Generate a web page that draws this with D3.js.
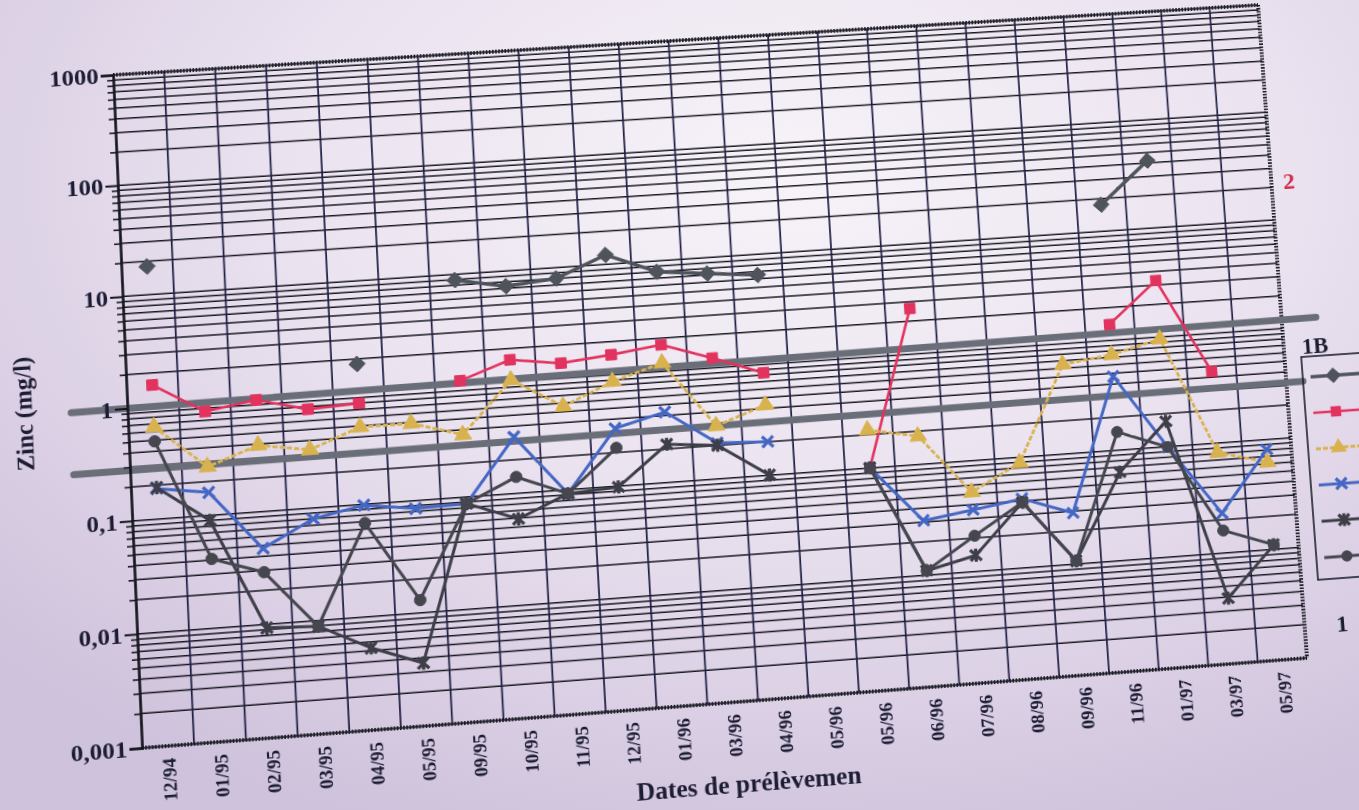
<!DOCTYPE html>
<html><head><meta charset="utf-8">
<script src="https://cdn.jsdelivr.net/npm/d3@7"></script>
<style>
html,body{margin:0;padding:0;width:1359px;height:810px;overflow:hidden;}
body{background: radial-gradient(ellipse 80% 85% at 58% 22%, #f7f3f8 0%, #ebe3f0 45%, #cfc2dc 100%);}
#chart{position:absolute;left:0;top:0;transform-origin:0 0;overflow:visible;}
text{font-family:"Liberation Serif","Times New Roman",serif;font-weight:bold;fill:#1c1c34;}
</style></head><body>
<svg id="chart" width="1500" height="900"></svg>
<script>
// ---------------- data ----------------
const categories = ["12/94","01/95","02/95","03/95","04/95","05/95","09/95","10/95","11/95","12/95","01/96","03/96","04/96","05/96","05/96","06/96","07/96","08/96","09/96","11/96","01/97","03/97","05/97"];
const zincDiamond = [18, null, null, null, 1.8, null, 8.9, 7.3, 8.0, 12.2, 8.0, 7.2, 6.5, null, null, null, null, null, null, 17.6, 42, null, null];
const zincSquare  = [1.56, 0.84, 0.99, 0.76, 0.80, null, 1.1, 1.58, 1.37, 1.52, 1.74, 1.23, 0.84, null, 0.10, 2.6, null, null, null, 1.4, 3.3, 0.45, null];
const zincTriangle= [0.66, 0.27, 0.39, 0.33, 0.49, 0.49, 0.36, 1.04, 0.56, 0.87, 1.19, 0.30, 0.43, null, 0.22, 0.18, 0.052, 0.089, 0.65, 0.74, 0.96, 0.082, 0.062];
const zincCross   = [0.186, 0.16, 0.047, 0.080, 0.098, 0.085, 0.087, 0.32, 0.092, 0.33, 0.43, 0.21, 0.20, null, 0.10, 0.031, 0.036, 0.042, 0.029, 0.47, 0.099, 0.023, 0.081];
const zincStar    = [0.19, 0.090, 0.0093, 0.0089, 0.0053, 0.0036, 0.087, 0.059, 0.092, 0.098, 0.22, 0.20, 0.10, null, 0.10, 0.011, 0.014, 0.039, 0.0107, 0.063, 0.17, 0.0039, 0.011];
const zincCircle  = [0.49, 0.041, 0.029, 0.0089, 0.068, 0.013, 0.087, 0.14, 0.092, 0.22, null, null, null, null, 0.10, 0.011, 0.021, 0.039, 0.0107, 0.146, 0.099, 0.016, 0.011];
const yTickValues = [1000, 100, 10, 1, 0.1, 0.01, 0.001];
const yTickLabels = ["1000", "100", "10", "1", "0,1", "0,01", "0,001"];
const thresholdStart = [1.0, 0.28];
const thresholdEnd   = [1.2, 0.32];
const classLabels = ["2", "1B", "1"];
const yTitle = "Zinc (mg/l)";
const xTitle = "Dates de prélèvemen";

// ---------------- layout ----------------
const ML = 113, MT = 75, W = 1145, H = 673;
const corners = [[113,75],[1258,5],[1307,658],[142,748]]; // photo perspective of plot frame

function squareToQuad(p){
  const [x0,y0]=p[0],[x1,y1]=p[1],[x2,y2]=p[2],[x3,y3]=p[3];
  const dx1=x1-x2, dx2=x3-x2, dx3=x0-x1+x2-x3;
  const dy1=y1-y2, dy2=y3-y2, dy3=y0-y1+y2-y3;
  const den = dx1*dy2 - dx2*dy1;
  const g = (dx3*dy2 - dx2*dy3)/den;
  const h = (dx1*dy3 - dx3*dy1)/den;
  return {a:x1-x0+g*x1, b:x3-x0+h*x3, c:x0, d:y1-y0+g*y1, e:y3-y0+h*y3, f:y0, g, h};
}
const q = squareToQuad(corners);
const m11=q.a/W, m12=q.b/H, m13=q.c - q.a*ML/W - q.b*MT/H;
const m21=q.d/W, m22=q.e/H, m23=q.f - q.d*ML/W - q.e*MT/H;
const m31=q.g/W, m32=q.h/H, m33=1 - q.g*ML/W - q.h*MT/H;

const svg = d3.select("#chart")
  .style("transform", `matrix3d(${m11},${m21},0,${m31},${m12},${m22},0,${m32},0,0,1,0,${m13},${m23},0,${m33})`);

const x = d3.scaleBand().domain(d3.range(categories.length)).range([ML, ML+W]).padding(0);
const cx = i => x(i) + x.bandwidth()/2;
const y = d3.scaleLog().domain([0.001, 1000]).range([MT+H, MT]);

// horizontal grid (major + minor)
const gridVals = y.ticks();
svg.append("g").selectAll("line").data(gridVals).join("line")
  .attr("x1", ML).attr("x2", ML+W)
  .attr("y1", d => y(d)).attr("y2", d => y(d))
  .attr("stroke", "#17171f").attr("stroke-width", 1.5);

// vertical grid
svg.append("g").selectAll("line").data(d3.range(1, categories.length)).join("line")
  .attr("x1", i => x(i)).attr("x2", i => x(i))
  .attr("y1", MT).attr("y2", MT+H)
  .attr("stroke", "#1e1e44").attr("stroke-width", 1.7);

// dotted frame (top, right, bottom)
const frame = svg.append("g").attr("stroke", "#1a1a24").attr("stroke-width", 4).attr("stroke-dasharray", "1.6,1.5").attr("fill", "none");
frame.append("line").attr("x1", ML).attr("x2", ML+W).attr("y1", MT).attr("y2", MT);
frame.append("line").attr("x1", ML+W).attr("x2", ML+W).attr("y1", MT).attr("y2", MT+H);
frame.append("line").attr("x1", ML).attr("x2", ML+W).attr("y1", MT+H).attr("y2", MT+H);

// threshold lines (drawn before axis labels)
const thrX = [[ML-54, ML+W+35], [ML-54, ML+W+17]];
thresholdStart.forEach((v0, k) => {
  const l0 = Math.log10(v0), l1 = Math.log10(thresholdEnd[k]);
  const valAt = px => Math.pow(10, l0 + (l1 - l0) * (px - ML) / W);
  svg.append("line")
    .attr("x1", thrX[k][0]).attr("y1", y(valAt(thrX[k][0])))
    .attr("x2", thrX[k][1]).attr("y2", y(valAt(thrX[k][1])))
    .attr("stroke", "#6a6e79").attr("stroke-width", 7).attr("stroke-linecap", "round");
});

// left axis: minor ticks + major ticks with labels
const minorVals = gridVals.filter(v => !yTickValues.some(t => Math.abs(Math.log10(t) - Math.log10(v)) < 1e-9));
svg.append("g").attr("transform", `translate(${ML},0)`)
  .call(d3.axisLeft(y).tickValues(minorVals).tickSize(6).tickFormat(""))
  .call(g => g.select(".domain").remove())
  .call(g => g.selectAll("line").attr("stroke", "#1a1a22").attr("stroke-width", 1.6));
const yAxis = svg.append("g").attr("transform", `translate(${ML},0)`)
  .call(d3.axisLeft(y).tickValues(yTickValues).tickSize(12).tickPadding(2).tickFormat((d,i) => yTickLabels[i]));
yAxis.select(".domain").attr("stroke", "#15151d").attr("stroke-width", 2.6);
yAxis.selectAll(".tick line").attr("stroke", "#15151d").attr("stroke-width", 2);
yAxis.selectAll(".tick text").attr("font-size", 24).attr("fill", "#1c1c34")
  .attr("font-family", "Liberation Serif, serif").attr("font-weight", "bold");

// bottom axis labels
const xAxis = svg.append("g").attr("transform", `translate(0,${MT+H})`)
  .call(d3.axisBottom(x).tickSize(0).tickFormat(i => categories[i]));
xAxis.select(".domain").remove();
xAxis.selectAll(".tick text")
  .attr("transform", "rotate(-90)").attr("text-anchor", "end")
  .attr("x", -12).attr("y", 0).attr("dy", "0.36em")
  .attr("font-size", 18.5).attr("fill", "#1c1c34")
  .attr("font-family", "Liberation Serif, serif").attr("font-weight", "bold");

// axis titles
svg.append("text").attr("transform", `translate(13,410) rotate(-90)`)
  .attr("text-anchor", "middle").attr("dy", "0.35em").attr("font-size", 24).text(yTitle);
svg.append("text").attr("x", 697).attr("y", 829).attr("text-anchor", "middle")
  .attr("dy", "0.35em").attr("font-size", 25).attr("font-weight", "bold").text(xTitle);

// class labels
svg.append("text").attr("x", 1276).attr("y", 260).attr("text-anchor", "middle").attr("dy", "0.35em")
  .attr("font-size", 24).style("fill", "#d42a4c").text(classLabels[0]);
svg.append("text").attr("x", 1290).attr("y", 431).attr("text-anchor", "middle").attr("dy", "0.35em")
  .attr("font-size", 23).text(classLabels[1]);
svg.append("text").attr("x", 1296).attr("y", 716).attr("text-anchor", "middle").attr("dy", "0.35em")
  .attr("font-size", 24).text(classLabels[2]);

// ---------------- series ----------------
function markerPath(type, s){
  if (type === "cross") return `M${-s},${-s}L${s},${s}M${-s},${s}L${s},${-s}`;
  if (type === "star") return `M${-s},${-s}L${s},${s}M${-s},${s}L${s},${-s}M0,${-s*1.2}L0,${s*1.2}`;
  if (type === "diamond") { const r = s * 1.45; return `M0,${-r}L${r},0L0,${r}L${-r},0Z`; }
  const t = {square: d3.symbolSquare, triangle: d3.symbolTriangle, circle: d3.symbolCircle}[type];
  const size = {square: 110, triangle: 120, circle: 100}[type];
  return d3.symbol().type(t).size(size)();
}
const seriesList = [
  {values: zincDiamond,  color: "#4e535c", width: 3.6, dash: null,  marker: "diamond"},
  {values: zincSquare,   color: "#e2325e", width: 2.6, dash: null,  marker: "square"},
  {values: zincTriangle, color: "#d8b24e", width: 2.8, dash: "5,2", marker: "triangle"},
  {values: zincCross,    color: "#4567c4", width: 3.0, dash: null,  marker: "cross"},
  {values: zincStar,     color: "#3d3e47", width: 3.0, dash: null,  marker: "star"},
  {values: zincCircle,   color: "#45464e", width: 3.0, dash: null,  marker: "circle"}
];
const line = d3.line().defined(d => d.v != null).x(d => cx(d.i)).y(d => y(d.v));
seriesList.forEach(s => {
  const pts = s.values.map((v, i) => ({i, v}));
  const g = svg.append("g");
  g.append("path").datum(pts).attr("d", line).attr("fill", "none")
    .attr("stroke", s.color).attr("stroke-width", s.width)
    .attr("stroke-dasharray", s.dash).attr("stroke-linejoin", "round");
  const mk = g.selectAll("path.m").data(pts.filter(d => d.v != null)).join("path").attr("class", "m")
    .attr("transform", d => `translate(${cx(d.i)},${y(d.v)})`)
    .attr("d", markerPath(s.marker, 5.5));
  if (s.marker === "cross" || s.marker === "star") mk.attr("fill", "none").attr("stroke", s.color).attr("stroke-width", 3.2);
  else mk.attr("fill", s.color).attr("stroke", s.color).attr("stroke-width", 1);
});

// ---------------- legend (text runs off the page in the original) ----------------
const LX = 1275, LY = 442, LH = 228;
svg.append("rect").attr("x", LX).attr("y", LY).attr("width", 240).attr("height", LH)
  .attr("fill", "none").attr("stroke", "#1d1d30").attr("stroke-width", 1.6);
seriesList.forEach((s, k) => {
  const yy = LY + 21 + k * 37;
  svg.append("line").attr("x1", LX + 8).attr("x2", LX + 220).attr("y1", yy).attr("y2", yy)
    .attr("stroke", s.color).attr("stroke-width", s.width).attr("stroke-dasharray", s.dash);
  const m = svg.append("path").attr("transform", `translate(${LX + 31},${yy})`).attr("d", markerPath(s.marker, 5.5));
  if (s.marker === "cross" || s.marker === "star") m.attr("fill", "none").attr("stroke", s.color).attr("stroke-width", 3.2);
  else m.attr("fill", s.color);
});
</script>
</body></html>
